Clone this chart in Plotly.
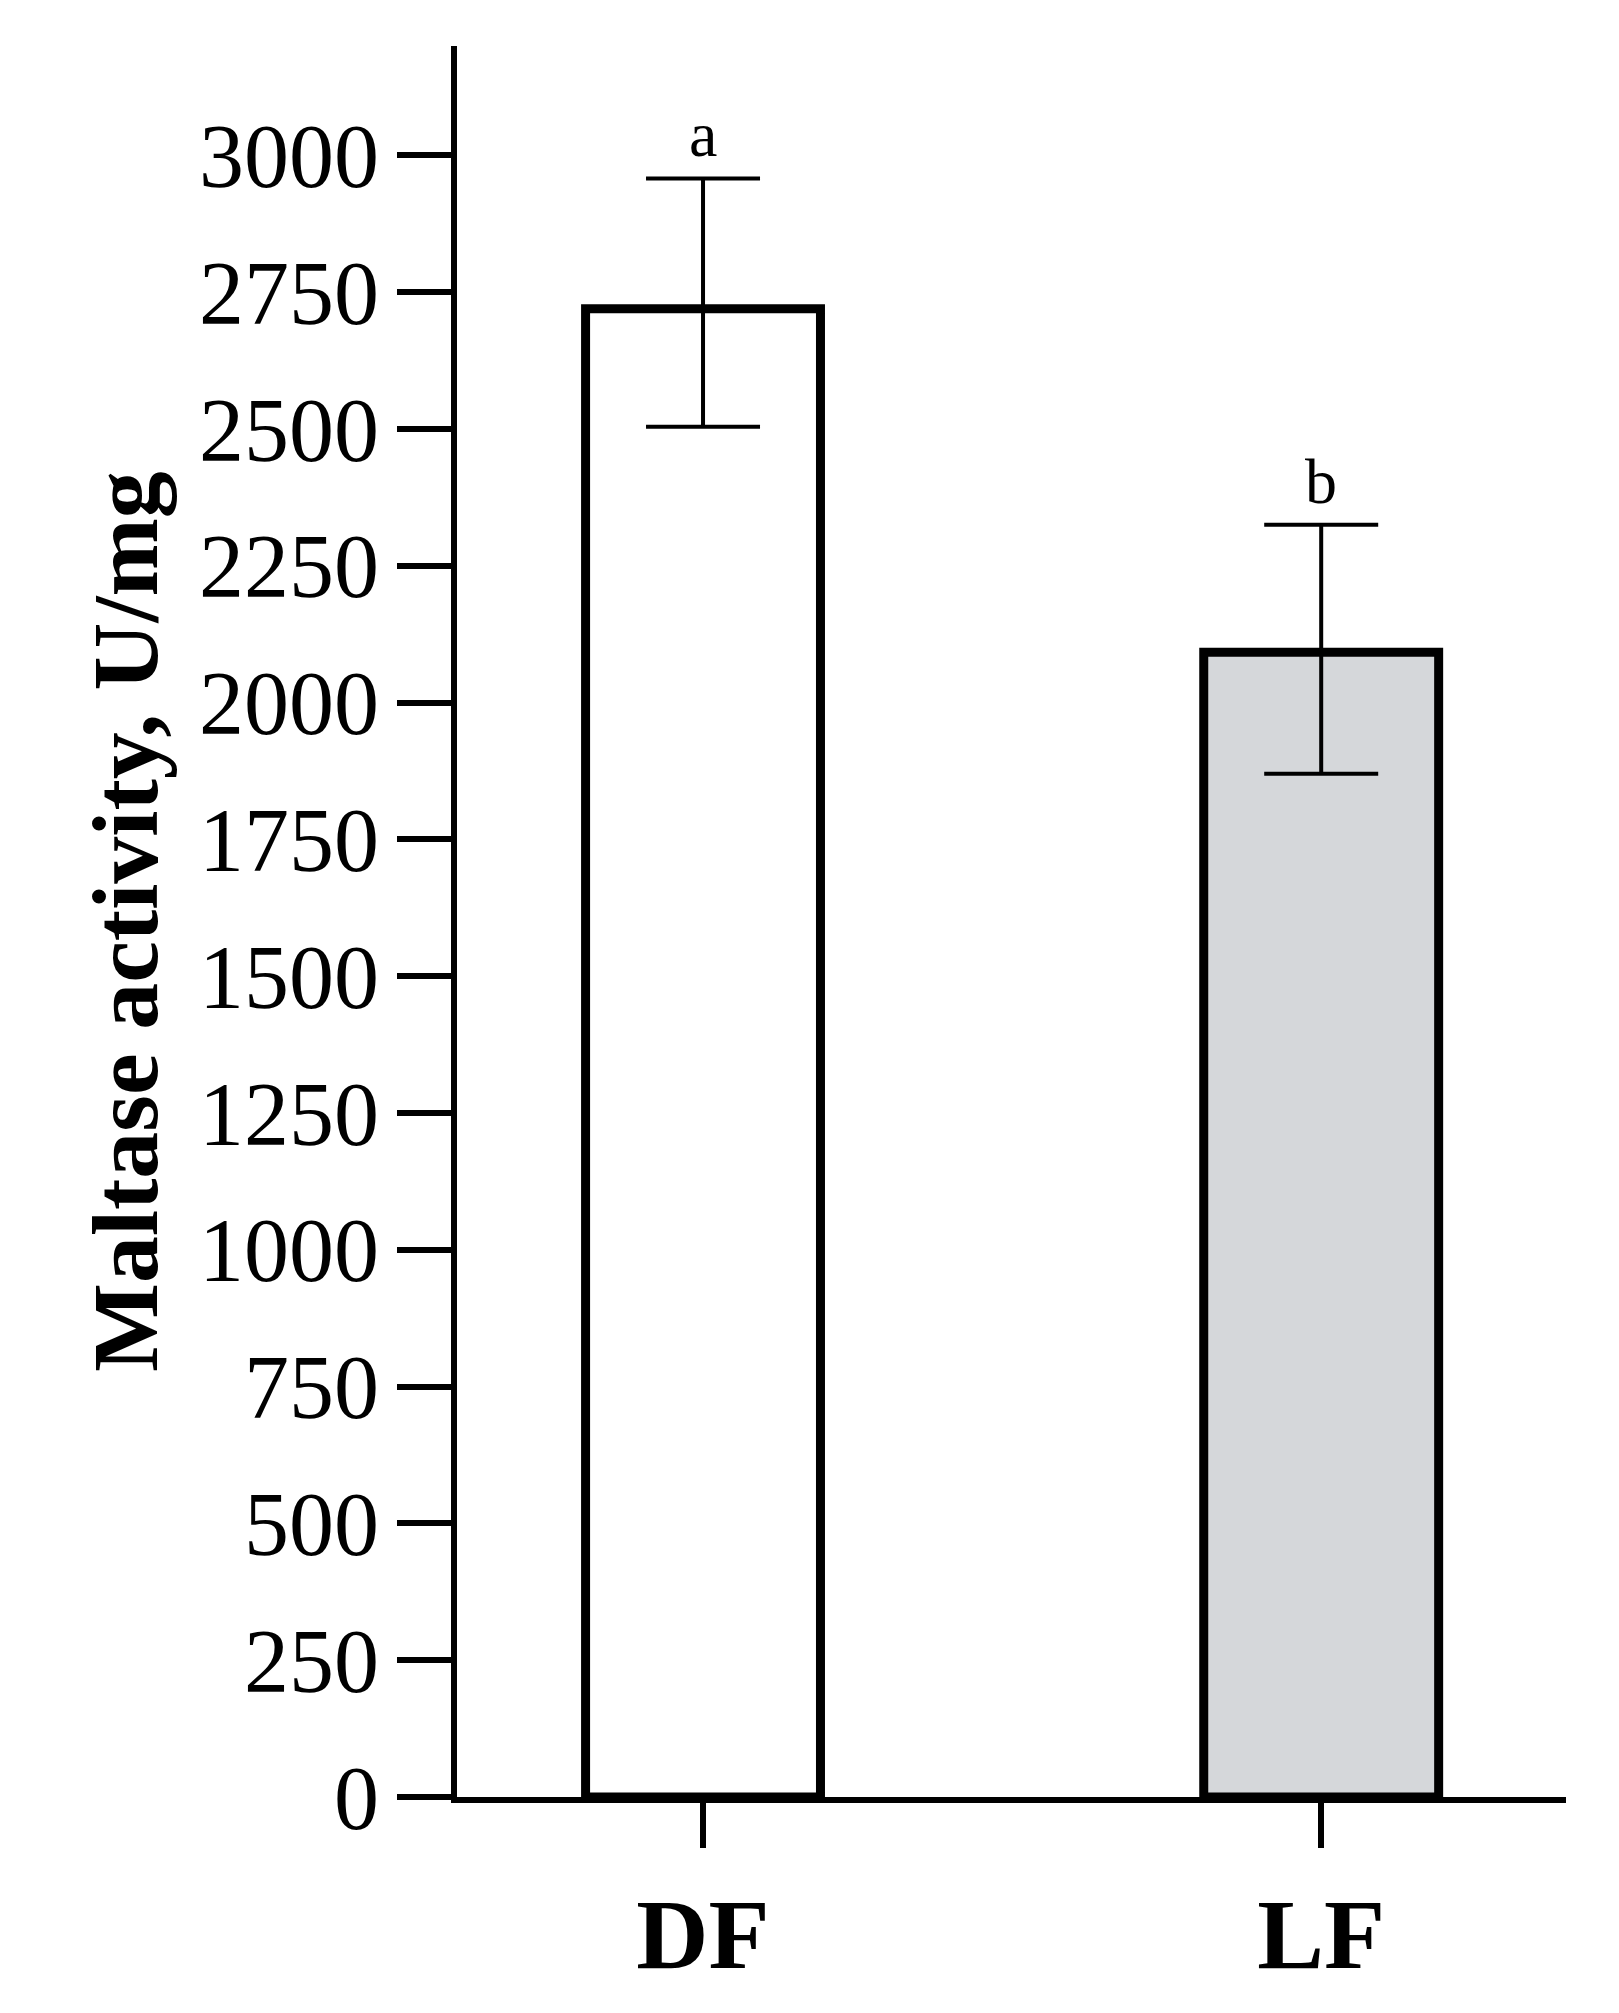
import plotly.graph_objects as go

categories = ["DF", "LF"]
values = [2720, 2092]
err_plus = [238, 233]
err_minus = [216, 222]
letters = ["a", "b"]
bar_colors = ["#ffffff", "#d5d7da"]
yticks = [0, 250, 500, 750, 1000, 1250, 1500, 1750, 2000, 2250, 2500, 2750, 3000]

xpos = list(range(len(categories)))
fig = go.Figure()
fig.add_trace(go.Bar(
    x=xpos, y=values, width=0.38,
    marker=dict(color=bar_colors, line=dict(color="black", width=9)),
    error_y=dict(type="data", array=err_plus, arrayminus=err_minus, symmetric=False,
                 color="black", thickness=4, width=57),
))
for xi, v, e, l in zip(xpos, values, err_plus, letters):
    fig.add_annotation(x=xi, y=v + e, text=l, showarrow=False, yanchor="bottom", yshift=6,
                       font=dict(family="Liberation Serif", size=64, color="black"))

fig.update_layout(
    width=1619, height=2013, plot_bgcolor="white", paper_bgcolor="white",
    margin=dict(l=449, r=61, t=38, b=224), showlegend=False,
    font=dict(family="Liberation Serif", color="black"),
)
fig.update_xaxes(range=[-0.398, 1.396], tickvals=xpos, ticktext=["<b>DF</b>", "<b>LF</b>"],
                 showline=True, linecolor="black", linewidth=6, ticks="outside",
                 ticklen=45, tickwidth=6, tickcolor="black", showgrid=False, zeroline=False,
                 tickfont=dict(family="Liberation Serif", size=100, color="black"))
fig.update_yaxes(range=[0, 3200], tickvals=yticks, showline=True, linecolor="black",
                 linewidth=6, ticks="outside", ticklen=54, tickwidth=6, tickcolor="black",
                 showgrid=False, zeroline=False,
                 tickfont=dict(family="Liberation Serif", size=90, color="black"),
                 title=dict(text="<b>Maltase activity, U/mg</b>", standoff=12,
                            font=dict(family="Liberation Serif", size=94, color="black")))
fig.write_html("out.html")
